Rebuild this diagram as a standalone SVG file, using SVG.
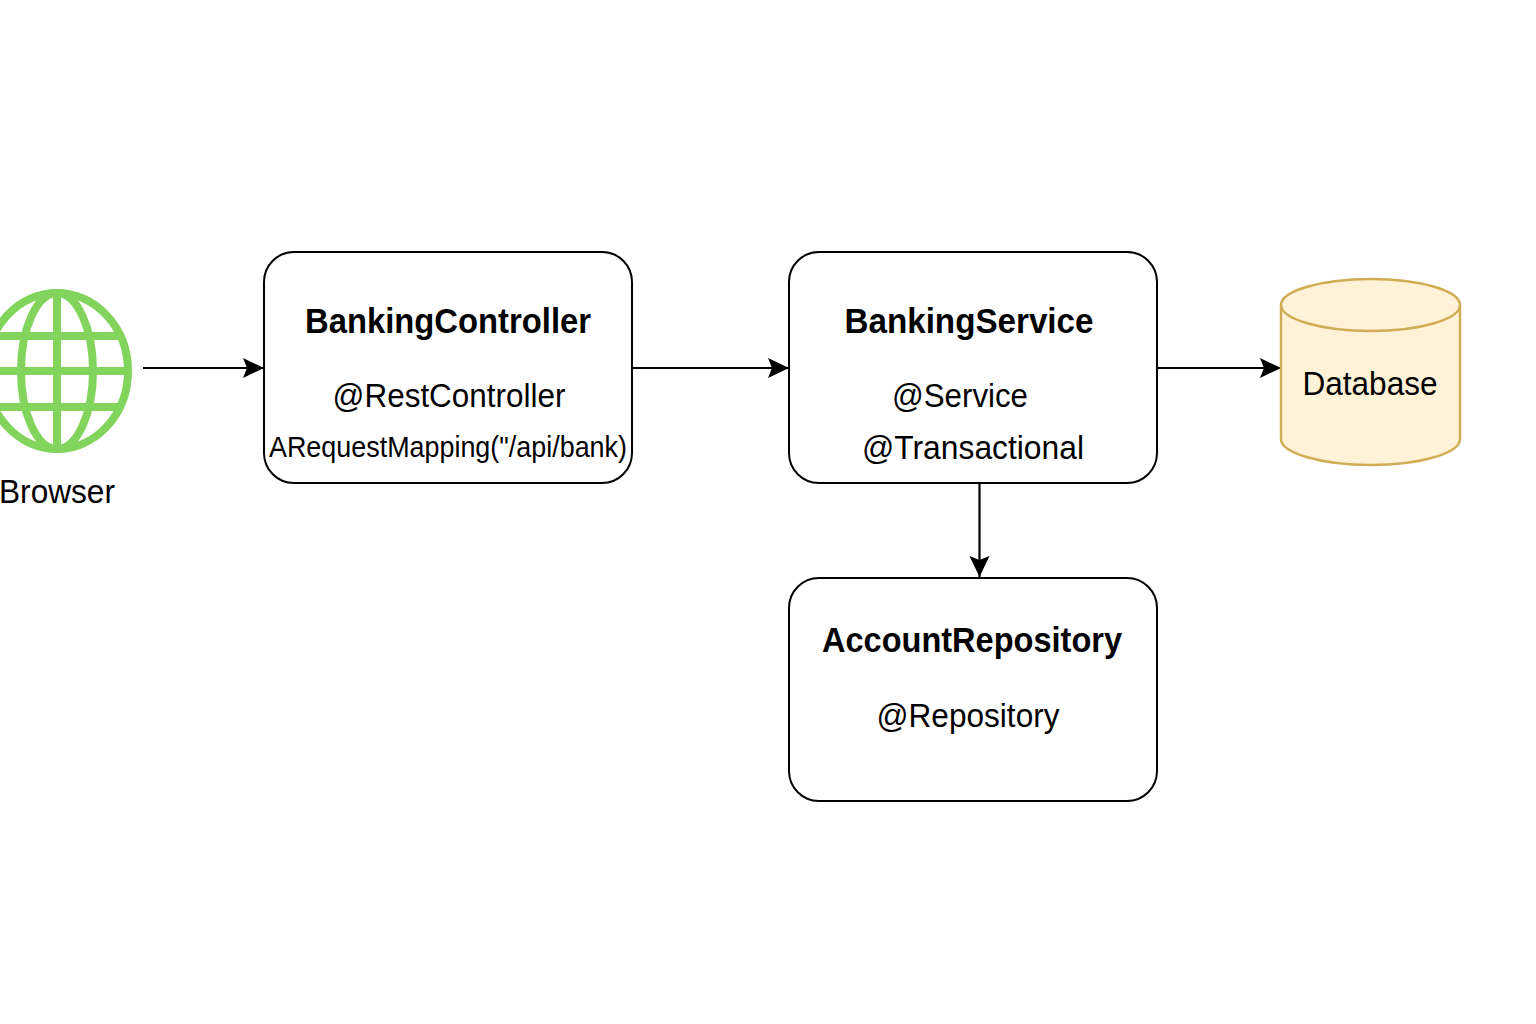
<svg xmlns="http://www.w3.org/2000/svg" width="1536" height="1024" viewBox="0 0 1536 1024">
<style>
text{font-family:"Liberation Sans",Arial,sans-serif;fill:#000;text-anchor:middle}
.t{font-size:35px;font-weight:bold}
.a{font-size:34px}
.box{fill:#fff;stroke:#000;stroke-width:2}
.g{fill:none;stroke:#82d45c}
.c{stroke:#000;stroke-width:2.2;fill:none;marker-end:url(#ah)}
.db{fill:#fff2d6;stroke:#d0ac55;stroke-width:2.4}
</style>
<defs><marker id="ah" markerUnits="userSpaceOnUse" markerWidth="22" markerHeight="22" refX="21" refY="11" orient="auto"><path d="M0 1L21 11L0 21L4 11Z" fill="#000"/></marker></defs>
<rect width="1536" height="1024" fill="#fff"/>
<g id="connectors">
<path class="c" d="M143 368H264"/>
<path class="c" d="M632 368H789"/>
<path class="c" d="M1157 368H1281"/>
<path class="c" d="M979.5 483V577"/>
</g>
<g id="browser">
<ellipse class="g" cx="57" cy="371" rx="71" ry="78" stroke-width="8"/>
<ellipse class="g" cx="57" cy="371" rx="36" ry="78" stroke-width="8"/>
<path class="g" stroke-width="8" d="M57 293V449M-14 371H128M-5 336H119M-5 407H119"/>
<text x="57" y="503" class="a" textLength="116" lengthAdjust="spacingAndGlyphs">Browser</text>
</g>
<g id="bankingController">
<rect class="box" x="264" y="252" width="368" height="231" rx="30"/>
<text class="t" x="448" y="333" textLength="286" lengthAdjust="spacingAndGlyphs">BankingController</text>
<text class="a" x="449" y="407" textLength="233" lengthAdjust="spacingAndGlyphs">@RestController</text>
<text x="448" y="457" font-size="29" textLength="358" lengthAdjust="spacingAndGlyphs">ARequestMapping("/api/bank)</text>
</g>
<g id="bankingService">
<rect class="box" x="789" y="252" width="368" height="231" rx="30"/>
<text class="t" x="969" y="333" textLength="249" lengthAdjust="spacingAndGlyphs">BankingService</text>
<text class="a" x="960" y="407" textLength="136" lengthAdjust="spacingAndGlyphs">@Service</text>
<text class="a" x="973" y="459" textLength="222" lengthAdjust="spacingAndGlyphs">@Transactional</text>
</g>
<g id="accountRepository">
<rect class="box" x="789" y="578" width="368" height="223" rx="30"/>
<text class="t" x="972" y="652" textLength="300" lengthAdjust="spacingAndGlyphs">AccountRepository</text>
<text class="a" x="968" y="727" textLength="183" lengthAdjust="spacingAndGlyphs">@Repository</text>
</g>
<g id="database">
<path class="db" d="M1281 305V439C1281 453 1321 465 1371 465S1460 453 1460 439V305C1460 291 1421 279 1371 279S1281 291 1281 305Z"/>
<path class="db" style="fill:none" d="M1281 305C1281 319 1321 331 1371 331S1460 319 1460 305"/>
<text class="a" x="1370" y="395" textLength="135" lengthAdjust="spacingAndGlyphs">Database</text>
</g>
</svg>
